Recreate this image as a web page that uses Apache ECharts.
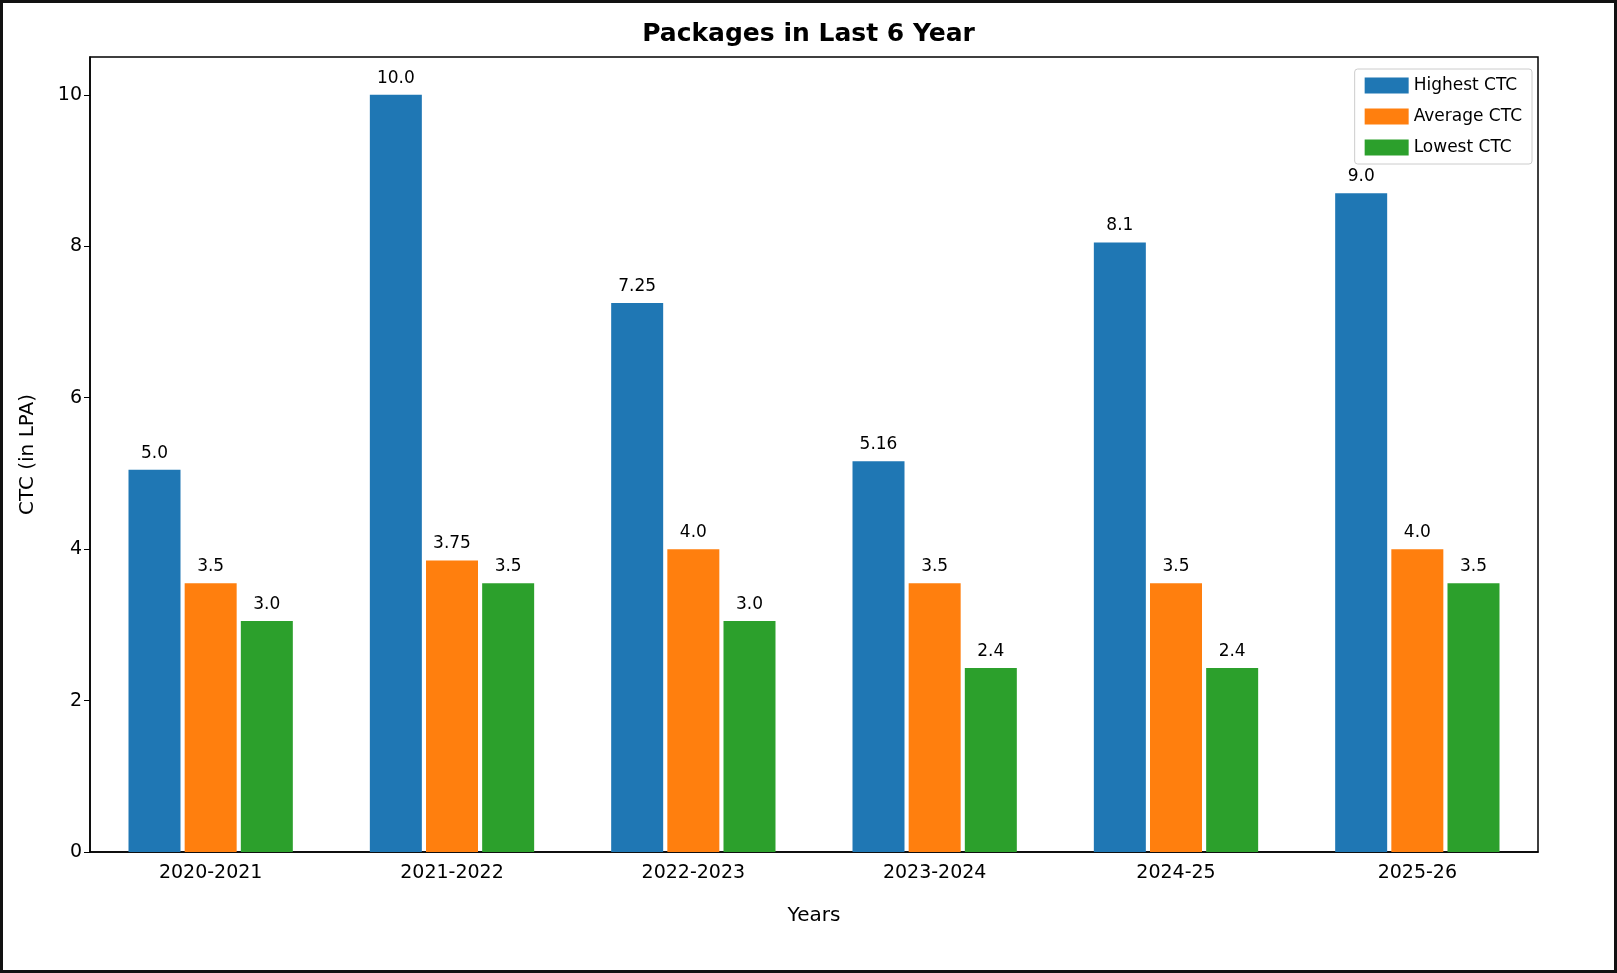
<!DOCTYPE html>
<html>
<head>
<meta charset="utf-8">
<script src="https://cdn.jsdelivr.net/npm/echarts@6/dist/echarts.min.js"></script>
<style>
html,body{margin:0;padding:0;background:#fff;}
#chart{width:1617px;height:973px;box-sizing:border-box;border:3px solid #111;}
</style>
</head>
<body>
<div id="chart"></div>
<script>
var years = ['2020-2021', '2021-2022', '2022-2023', '2023-2024', '2024-25', '2025-26'];
var highest = [5.05, 10.0, 7.25, 5.16, 8.05, 8.7];
var average = [3.55, 3.85, 4.0, 3.55, 3.55, 4.0];
var lowest = [3.05, 3.55, 3.05, 2.43, 2.43, 3.55];
var highestText = ['5.0', '10.0', '7.25', '5.16', '8.1', '9.0'];
var averageText = ['3.5', '3.75', '4.0', '3.5', '3.5', '4.0'];
var lowestText = ['3.0', '3.5', '3.0', '2.4', '2.4', '3.5'];
var yTicks = [0, 2, 4, 6, 8, 10];

var font = 'DejaVu Sans';
function makeSeries(name, values, texts, color) {
    return {
        name: name,
        type: 'bar',
        data: values,
        barWidth: 52,
        barGap: '8%',
        itemStyle: {color: color},
        label: {
            show: true,
            position: 'top',
            distance: 8,
            color: '#000',
            fontFamily: font,
            fontSize: 17,
            formatter: function (p) { return texts[p.dataIndex]; }
        }
    };
}

var ech = echarts.init(document.getElementById('chart'));
ech.setOption({
    animation: false,
    textStyle: {fontFamily: font},
    title: {
        text: 'Packages in Last 6 Year',
        left: 'center',
        top: 14,
        textStyle: {fontFamily: font, fontSize: 25, fontWeight: 'bold', color: '#000'}
    },
    legend: {
        orient: 'vertical',
        right: 82,
        top: 66,
        icon: 'rect',
        itemWidth: 44,
        itemHeight: 16,
        itemGap: 14,
        borderColor: '#ccc',
        borderWidth: 1,
        borderRadius: 3,
        padding: [8, 10],
        textStyle: {fontFamily: font, fontSize: 17, color: '#000'}
    },
    grid: {
        left: 87, right: 76, top: 54, bottom: 118,
        show: true, borderColor: '#000', borderWidth: 1.5
    },
    xAxis: {
        type: 'category',
        data: years,
        name: 'Years',
        nameLocation: 'middle',
        nameGap: 54,
        nameTextStyle: {fontFamily: font, fontSize: 20, color: '#000'},
        axisLine: {lineStyle: {color: '#000', width: 1.5}},
        axisTick: {alignWithLabel: true, length: 6, lineStyle: {color: '#000'}},
        axisLabel: {fontFamily: font, fontSize: 19, color: '#000', margin: 12}
    },
    yAxis: {
        type: 'value',
        min: 0,
        max: 10.5,
        interval: 2,
        name: 'CTC (in LPA)',
        nameLocation: 'middle',
        nameGap: 52,
        nameTextStyle: {fontFamily: font, fontSize: 20, color: '#000'},
        splitLine: {show: false},
        axisLine: {show: true, lineStyle: {color: '#000', width: 1.5}},
        axisTick: {show: true, length: 6, lineStyle: {color: '#000'}},
        axisLabel: {
            fontFamily: font, fontSize: 19, color: '#000', showMaxLabel: false,
            formatter: function (v) { return yTicks.indexOf(v) >= 0 ? String(v) : ''; }
        }
    },
    series: [
        makeSeries('Highest CTC', highest, highestText, '#1f77b4'),
        makeSeries('Average CTC', average, averageText, '#ff7f0e'),
        makeSeries('Lowest CTC', lowest, lowestText, '#2ca02c')
    ]
});
</script>
</body>
</html>
